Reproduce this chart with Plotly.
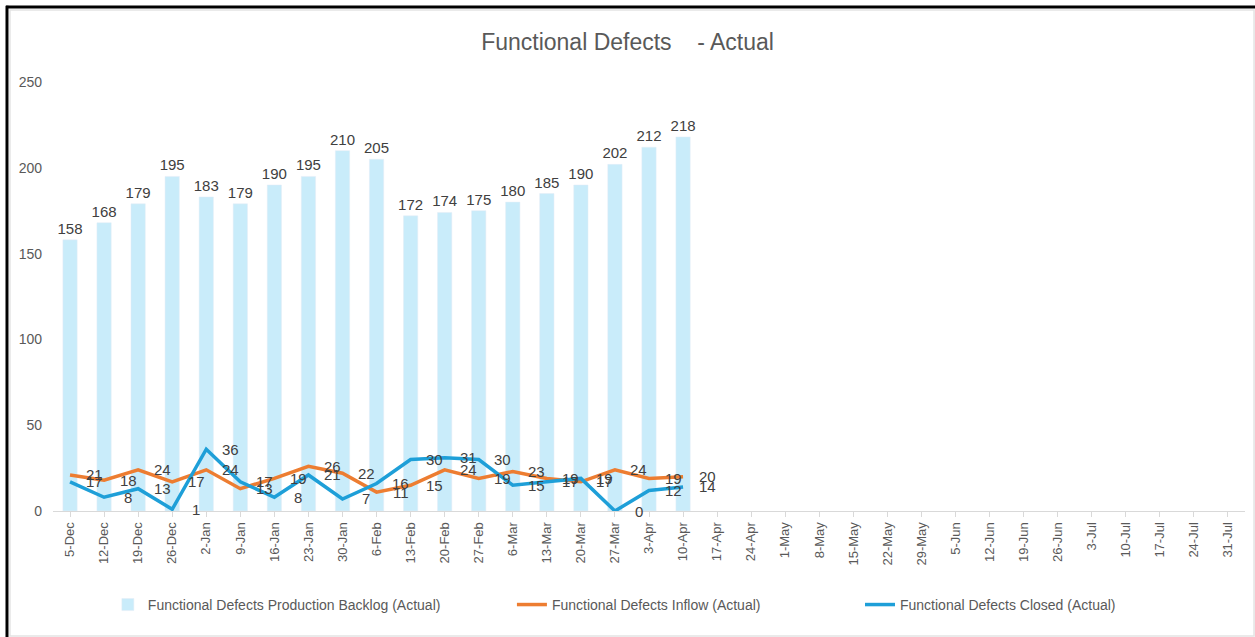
import plotly.graph_objects as go

weeks = ["5-Dec", "12-Dec", "19-Dec", "26-Dec", "2-Jan", "9-Jan", "16-Jan", "23-Jan", "30-Jan",
         "6-Feb", "13-Feb", "20-Feb", "27-Feb", "6-Mar", "13-Mar", "20-Mar", "27-Mar", "3-Apr",
         "10-Apr", "17-Apr", "24-Apr", "1-May", "8-May", "15-May", "22-May", "29-May", "5-Jun",
         "12-Jun", "19-Jun", "26-Jun", "3-Jul", "10-Jul", "17-Jul", "24-Jul", "31-Jul"]

backlog = [158, 168, 179, 195, 183, 179, 190, 195, 210, 205, 172, 174, 175, 180, 185, 190, 202, 212, 218]
inflow = [21, 18, 24, 17, 24, 13, 19, 26, 22, 11, 15, 24, 19, 23, 19, 17, 24, 19, 20]
closed = [17, 8, 13, 1, 36, 17, 8, 21, 7, 16, 30, 31, 30, 15, 17, 19, 0, 12, 14]

FONT = "Liberation Sans Narrow, Arial Narrow, Liberation Sans, sans-serif"
GREY = "#595959"
LABEL = "#404040"
ORANGE = "#ED7D31"
BLUE = "#1E9FD8"

fig = go.Figure()

# backlog bars
fig.add_trace(go.Bar(
    x=weeks[:len(backlog)], y=backlog,
    name="Functional Defects Production Backlog (Actual)",
    marker_color="#C9ECFA",
    text=backlog, textposition="outside", constraintext="none",
    textfont=dict(size=15, color=LABEL, family=FONT),
    cliponaxis=False,
    legend="legend",
))

# inflow + closed lines
fig.add_trace(go.Scatter(
    x=weeks[:len(inflow)], y=inflow,
    name="Functional Defects Inflow (Actual)",
    mode="lines", line=dict(color=ORANGE, width=3.5),
    legend="legend2",
))
fig.add_trace(go.Scatter(
    x=weeks[:len(closed)], y=closed,
    name="Functional Defects Closed (Actual)",
    mode="lines", line=dict(color=BLUE, width=3.5),
    legend="legend3",
))

# line labels, placed to the right of each point like Excel
annotations = []
for series in (inflow, closed):
    for wk, v in zip(weeks, series):
        annotations.append(dict(x=wk, y=v, text=str(v), showarrow=False,
                                xanchor="center", yanchor="middle", xshift=24,
                                font=dict(size=15, color=LABEL, family=FONT)))

leg = dict(orientation="h", yanchor="middle", y=-0.219, xanchor="left",
           bgcolor="rgba(0,0,0,0)", font=dict(size=14, color=GREY, family=FONT))

fig.update_layout(
    width=1255, height=637,
    margin=dict(l=53, r=10, t=82, b=126, autoexpand=False),
    paper_bgcolor="white", plot_bgcolor="white",
    font=dict(family=FONT, color=GREY, size=13),
    title=dict(text="Functional Defects\u00a0\u00a0\u00a0\u00a0- Actual",
               x=0.5, xanchor="center", y=0.934, yanchor="middle",
               font=dict(size=23, color=GREY, family=FONT)),
    bargap=0.58,
    showlegend=True,
    legend=dict(leg, x=0.046),
    legend2=dict(leg, x=0.385),
    legend3=dict(leg, x=0.677),
    annotations=annotations,
    xaxis=dict(type="category", categoryorder="array", categoryarray=weeks,
               range=[-0.5, len(weeks) - 0.5],
               tickangle=-90, showline=True, linecolor="#D9D9D9", linewidth=1,
               ticks="outside", ticklen=5, tickcolor="#D9D9D9",
               tickfont=dict(size=13, color=GREY, family=FONT), showgrid=False),
    yaxis=dict(range=[0, 250], dtick=50, showgrid=False, zeroline=False,
               showline=False, tickfont=dict(size=14, color=GREY, family=FONT),
               ticklabelstandoff=10),
    shapes=[
        # outer frame: grey box, dark edges on top and left
        dict(type="rect", xref="paper", yref="paper",
             x0=-0.0361, x1=1.0076, y0=-0.2914, y1=1.1678,
             line=dict(color="#E3E3E3", width=1.5), fillcolor="rgba(0,0,0,0)", layer="below"),
        dict(type="line", xref="paper", yref="paper",
             x0=-0.0394, x1=1.01, y0=1.1748, y1=1.1748,
             line=dict(color="black", width=3)),
        dict(type="line", xref="paper", yref="paper",
             x0=-0.0386, x1=-0.0386, y0=-0.30, y1=1.178,
             line=dict(color="black", width=3)),
    ],
)

fig.write_html("out.html", config={"displayModeBar": False},
               post_script="document.body.style.margin='0';")
